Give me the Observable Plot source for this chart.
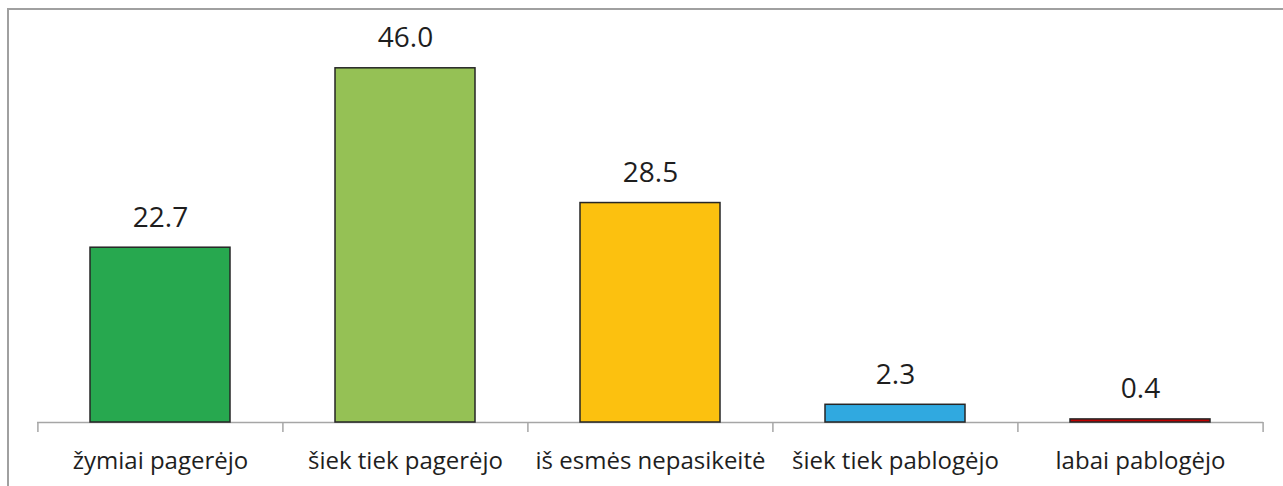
<!DOCTYPE html>
<html>
<head>
<meta charset="utf-8">
<script src="https://cdn.jsdelivr.net/npm/d3@7"></script>
<script src="https://cdn.jsdelivr.net/npm/@observablehq/plot@0.6"></script>
<style>
  html, body { margin: 0; padding: 0; background: #fff; }
  #wrap { position: relative; width: 1283px; height: 486px; overflow: hidden; }
  #frame { position: absolute; left: 7px; top: 8px; width: 1300px; height: 500px;
           border-top: 2px solid #a0a0a0; border-left: 2px solid #a0a0a0; pointer-events: none; }
  svg { display: block; }
</style>
</head>
<body>
<div id="wrap"><div id="frame"></div></div>
<script>
const categories = ["žymiai pagerėjo", "šiek tiek pagerėjo", "iš esmės nepasikeitė", "šiek tiek pablogėjo", "labai pablogėjo"];
const values = [22.7, 46.0, 28.5, 2.3, 0.4];
const valueLabels = ["22.7", "46.0", "28.5", "2.3", "0.4"];
const colors = ["#27a84f", "#95c155", "#fcc10f", "#30a9e0", "#c00000"];

const data = categories.map((c, i) => ({category: c, value: values[i], label: valueLabels[i]}));

const width = 1283, height = 486;
const marginLeft = 37, marginRight = 20;
const step = (width - marginLeft - marginRight) / categories.length;

const chart = Plot.plot({
  width, height,
  marginLeft, marginRight,
  marginTop: 37, marginBottom: 64,
  style: {fontFamily: "'Open Sans', sans-serif", fontSize: "24px", color: "#1e1e1e", background: "transparent"},
  x: {domain: categories, paddingInner: 0.429, paddingOuter: 0.2145, label: null},
  y: {domain: [0, 50], axis: null},
  color: {domain: categories, range: colors},
  marks: [
    Plot.ruleY([0], {stroke: "#a6a6a6", strokeWidth: 1.5}),
    Plot.ruleX(categories, {x: d => d, y1: 0, y2: 0, dx: -step / 2, insetBottom: -10, stroke: "#a6a6a6", strokeWidth: 1.5}),
    Plot.ruleX(categories.slice(-1), {x: d => d, y1: 0, y2: 0, dx: step / 2, insetBottom: -10, stroke: "#a6a6a6", strokeWidth: 1.5}),
    Plot.barY(data, {x: "category", y: "value", fill: "category", stroke: "#262626", strokeWidth: 1.5}),
    Plot.text(data, {x: "category", y: "value", text: "label", dy: -30, fontSize: 28, fill: "#1e1e1e"}),
    Plot.axisX({tickSize: 0, tickPadding: 29, label: null, fill: "#1e1e1e"})
  ]
});
document.getElementById("wrap").prepend(chart);
</script>
</body>
</html>
